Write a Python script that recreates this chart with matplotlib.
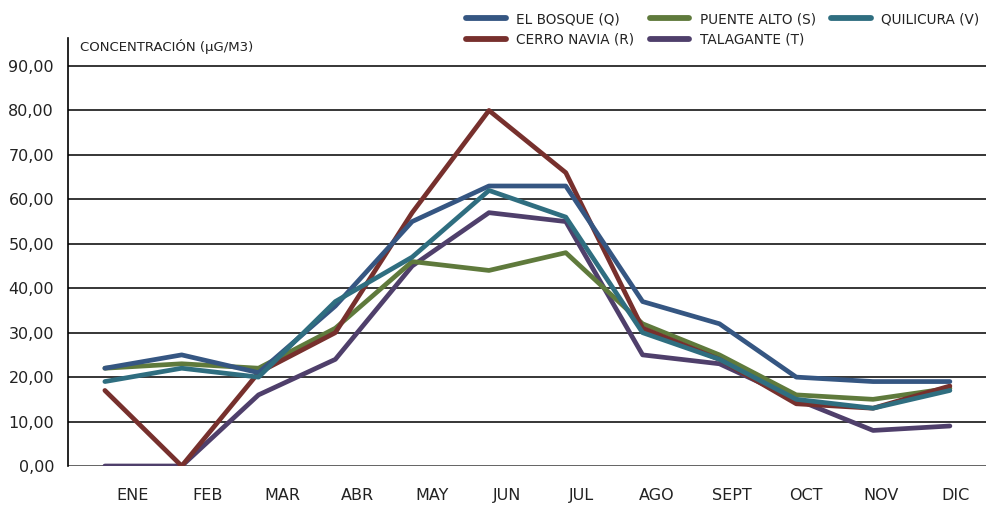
import matplotlib
matplotlib.use("Agg")
import matplotlib.pyplot as plt

# ==========================================
# DATA
# ==========================================
months = ["ENE", "FEB", "MAR", "ABR", "MAY", "JUN", "JUL", "AGO", "SEPT", "OCT", "NOV", "DIC"]

el_bosque   = [22, 25, 21, 36, 55, 63, 63, 37, 32, 20, 19, 19]
cerro_navia = [17, 0, 21, 30, 57, 80, 66, 31, 24, 14, 13, 18]
puente_alto = [22, 23, 22, 31, 46, 44, 48, 32, 25, 16, 15, 17.5]
quilicura   = [19, 22, 20, 37, 47, 62, 56, 30, 24, 15, 13, 17]
talagante   = [0, 0, 16, 24, 45, 57, 55, 25, 23, 15, 8, 9]

y_ticks = [0, 10, 20, 30, 40, 50, 60, 70, 80, 90]

# ==========================================
# STYLE
# ==========================================
C_BOSQUE  = '#355682'
C_CERRO   = '#77302d'
C_PUENTE  = '#5f7a3c'
C_QUILI   = '#2f6e80'
C_TALA    = '#4f3f6b'
LW = 3.4
FONT = 'DejaVu Sans'

plt.rcParams['font.family'] = FONT

fig = plt.figure(figsize=(9.86, 5.11), dpi=100)
ax = fig.add_axes([68/986, 45/511, (986-68)/986, (466-38)/511])

x = list(range(len(months)))

# gridlines (drawn first so series sit on top)
for v in y_ticks[1:]:
    ax.axhline(v, color='black', lw=1.1, zorder=1)
ax.axhline(0, color='#555555', lw=2.0, zorder=1)

# series - plotted in stacking order seen in the picture
ax.plot(x, talagante, color=C_TALA, lw=LW, solid_capstyle='round', label='TALAGANTE (T)', zorder=3)
ax.plot(x, puente_alto, color=C_PUENTE, lw=LW, solid_capstyle='round', label='PUENTE ALTO (S)', zorder=3)
ax.plot(x, cerro_navia, color=C_CERRO, lw=LW, solid_capstyle='round', label='CERRO NAVIA (R)', zorder=3)
ax.plot(x, el_bosque, color=C_BOSQUE, lw=LW, solid_capstyle='round', label='EL BOSQUE (Q)', zorder=3)
ax.plot(x, quilicura, color=C_QUILI, lw=LW, solid_capstyle='round', label='QUILICURA (V)', zorder=3)

ax.set_xlim(-0.48, 11.47)
ax.set_ylim(0, 96.3)

# y axis
ax.set_yticks(y_ticks)
ax.set_yticklabels([f"{v:.2f}".replace('.', ',') for v in y_ticks], fontsize=11.5, color='#222222')
ax.tick_params(axis='y', length=0, pad=10)

# month labels sit a bit right of the points in the original
ax.set_xticks([0.365 + 0.974 * i for i in x])
ax.set_xticklabels(months, fontsize=11.5, color='#222222')
ax.tick_params(axis='x', length=0, pad=16)

for s in ['top', 'right', 'bottom']:
    ax.spines[s].set_visible(False)
ax.spines['left'].set_color('black')
ax.spines['left'].set_linewidth(1.2)

ax.text(80/986, 1 - 46/511, 'CONCENTRACIÓN (µG/M3)', transform=fig.transFigure,
        fontsize=9.5, color='#222222', va='center', ha='left')

# legend, column-wise order as in the reference
h, l = ax.get_legend_handles_labels()
order = ['EL BOSQUE (Q)', 'CERRO NAVIA (R)', 'PUENTE ALTO (S)', 'TALAGANTE (T)', 'QUILICURA (V)']
hh = [h[l.index(n)] for n in order]
leg = fig.legend(hh, order, ncol=3, loc='upper right', bbox_to_anchor=(1.006, 1.0),
                 frameon=False, fontsize=9.8, handlelength=2.9, columnspacing=1.1,
                 handletextpad=0.8, labelspacing=0.45, borderaxespad=0.5)
for t in leg.get_texts():
    t.set_color('#222222')
for ln in leg.get_lines():
    ln.set_linewidth(4.2)

fig.savefig('out.png', dpi=100)
